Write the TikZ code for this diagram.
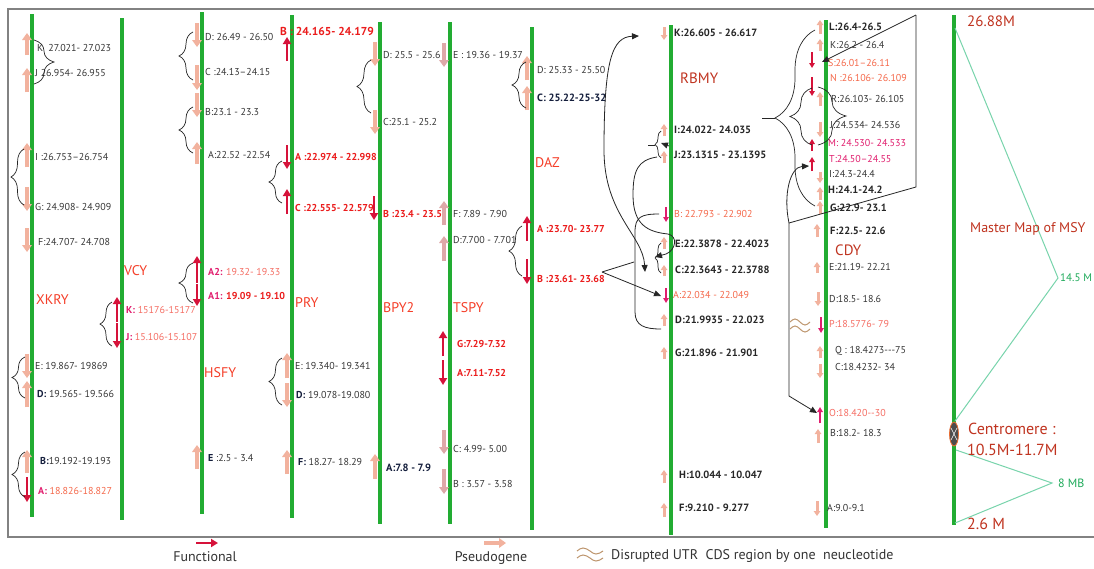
\documentclass[tikz,border=0pt]{standalone}
\usepackage{fontspec}
\setmainfont{PT Sans}
\usetikzlibrary{arrows.meta,decorations.pathreplacing,shapes.geometric}
\definecolor{chg}{RGB}{34,172,50}
\definecolor{psc}{RGB}{242,178,158}
\definecolor{psb}{RGB}{222,168,168}
\definecolor{fnc}{RGB}{214,18,58}
\definecolor{txt}{RGB}{55,55,55}
\definecolor{navy}{RGB}{20,30,60}
\definecolor{redt}{RGB}{245,62,40}
\definecolor{redb}{RGB}{235,28,28}
\definecolor{orng}{RGB}{245,105,75}
\definecolor{mag}{RGB}{225,30,110}
\definecolor{pinkt}{RGB}{245,110,100}
\definecolor{brn}{RGB}{192,52,32}
\definecolor{tl}{RGB}{120,212,172}
\definecolor{tlt}{RGB}{30,170,90}
\definecolor{wavc}{RGB}{190,150,110}
\definecolor{frm}{RGB}{130,130,130}
\tikzset{
 chrom/.style={draw=chg,line width=3.6pt},
 psarr/.style={draw=psc,line width=4.2pt,-{Triangle[width=9.5pt,length=7pt]}},
 fnarr/.style={draw=fnc,line width=2.6pt,-{Triangle[width=8pt,length=7pt]}},
 smarr/.style={draw=psc,line width=3pt,-{Triangle[width=6.5pt,length=5pt]}},
 sfarr/.style={draw=fnc,line width=2pt,-{Triangle[width=5.5pt,length=5pt]}},
 lab/.style={anchor=west,inner sep=0pt,text=txt,font=\fontsize{10}{12}\selectfont},
 labr/.style={anchor=west,inner sep=0pt,text=redb,font=\bfseries\fontsize{10}{12}\selectfont},
 labb/.style={anchor=west,inner sep=0pt,text=black!85,font=\bfseries\fontsize{10.5}{12}\selectfont},
 gname/.style={anchor=west,inner sep=0pt,text=redt,font=\fontsize{14}{16}\selectfont},
 bigt/.style={anchor=west,inner sep=0pt,text=brn,font=\fontsize{16}{18}\selectfont},
 legt/.style={inner sep=0pt,text=black!80,font=\fontsize{14}{16}\selectfont},
 brc/.style={decorate,decoration={brace,amplitude=#1},draw=black!85,line width=0.7pt},
 conn/.style={draw=black!85,line width=0.8pt},
 tipc/.tip={Triangle[width=6pt,length=7pt]},
 mline/.style={draw=tl,line width=1pt},
 wav/.style={draw=wavc,line width=1pt},
}
\newcommand\PsUp[4][]{\draw[psarr,#1] (#2,#4) -- (#2,#3);}
\newcommand\PsDn[4][]{\draw[psarr,#1] (#2,#3) -- (#2,#4);}
\newcommand\FnUp[4][]{\draw[fnarr,#1] (#2,#4) -- (#2,#3);}
\newcommand\FnDn[4][]{\draw[fnarr,#1] (#2,#3) -- (#2,#4);}
\newcommand\SmUp[4][]{\draw[smarr,#1] (#2,#4) -- (#2,#3);}
\newcommand\SmDn[4][]{\draw[smarr,#1] (#2,#3) -- (#2,#4);}
\newcommand\SfUp[4][]{\draw[sfarr,#1] (#2,#4) -- (#2,#3);}
\newcommand\SfDn[4][]{\draw[sfarr,#1] (#2,#3) -- (#2,#4);}
\begin{document}
\begin{tikzpicture}[x=1pt,y=-1pt]
\useasboundingbox (0,0) rectangle (1094,568);
\fill[white] (0,0) rectangle (1094,568);
\draw[frm,line width=1.3pt] (1100,9) -- (8,9) -- (8,537) -- (1100,537);

% ---------- XKRY ----------
\draw[chrom] (32,14) -- (32,517);
\PsUp{27}{33}{55} \node[lab] (xK) at (37,48) {K\hspace{5pt}27.021- 27.023};
\PsUp{27}{68}{92} \node[lab] (xJ) at (35,73) {J 26.954- 26.955};
\draw[brc=20] (34,40) -- (34,84);
\PsUp{27}{143}{167} \node[lab] (xI) at (35,157) {I :26.753–26.754};
\PsDn{27}{187}{211} \node[lab] (xG) at (35,207) {G: 24.908- 24.909};
\draw[brc=13] (24,205) -- (24,149);
\PsDn{27}{228}{252} \node[lab] (xF) at (38,242) {F:24.707- 24.708};
\node[gname] (xkry) at (36,300) {XKRY};
\PsDn{27}{354}{378} \node[lab] (xE) at (35,366) {E: 19.867- 19869};
\PsUp{27}{381}{407} \node[lab] (xD) at (37,394) {{\bfseries\color{navy}D:} 19.565- 19.566};
\draw[brc=13] (25,398) -- (25,357);
\PsUp{27}{450}{473} \node[lab] (xB) at (40,461) {{\bfseries\color{navy}B:}19.192-19.193};
\FnDn{27}{477}{502} \node[lab,text=orng] (xA) at (38,491) {{\bfseries\color{mag}A:} 18.826-18.827};
\draw[brc=13] (25,497) -- (25,452);

% ---------- VCY ----------
\draw[chrom] (122,18) -- (122,520);
\node[gname] (vcy) at (124,271) {VCY};
\FnUp{117}{297}{322} \node[lab,text=pinkt] (vK) at (126,310) {{\bfseries\color{mag}K:} 15176-15177};
\FnDn{117}{323}{348} \node[lab,text=pinkt] (vJ) at (126,337) {{\bfseries\color{mag}J:} 15.106-15.107};
\draw[brc=12] (112,346) -- (112,302);

% ---------- HSFY ----------
\draw[chrom] (202,12) -- (202,514);
\PsDn{197}{23}{47} \node[lab] (hD) at (205,37) {D: 26.49 - 26.50};
\PsDn{197}{65}{90} \node[lab] (hC) at (205,72) {C :24.13–24.15};
\draw[brc=14] (193,80) -- (193,32);
\PsDn{197}{93}{117} \node[lab] (hB) at (205,112) {B:23.1 - 23.3};
\PsUp{197}{142}{164} \node[lab] (hA) at (208,155) {A:22.52 -22.54};
\draw[brc=14] (193,153) -- (193,107);
\FnUp{197}{256}{283} \node[lab,text=pinkt] (hA2) at (208,272) {{\bfseries\color{mag}A2:} 19.32- 19.33};
\FnDn{197}{284}{306} \node[lab,text=redb] (hA1) at (208,296) {{\bfseries\color{mag}A1:} \textbf{19.09 - 19.10}};
\draw[brc=14] (193,303) -- (193,263);
\node[gname] (hsfy) at (204,373) {HSFY};
\PsUp{197}{445}{469} \node[lab] (hE) at (208,458) {{\bfseries\color{navy}E} :2.5 - 3.4};

% ---------- PRY ----------
\draw[chrom] (292,15) -- (292,518);
\FnUp{287}{37}{61} \node[labr,font=\bfseries\fontsize{11.5}{13}\selectfont] (pB) at (280,31) {B : 24.165- 24.179};
\FnDn{287}{145}{169} \node[labr] (pA) at (295,157) {A :22.974 - 22.998};
\FnUp{287}{189}{214} \node[labr] (pC) at (295,208) {C :22.555- 22.579};
\draw[brc=13] (282,203) -- (282,161);
\node[gname] (pry) at (295,303) {PRY};
\PsUp{287}{353}{378} \node[lab] (pE) at (295,366) {E: 19.340- 19.341};
\PsDn{287}{383}{407} \node[lab] (pD) at (296,395) {{\bfseries\color{navy}D:} 19.078-19.080};
\draw[brc=13] (282,405) -- (282,358);
\PsUp{287}{450}{474} \node[lab] (pF) at (298,462) {{\bfseries\color{navy}F:} 18.27- 18.29};

% ---------- BPY2 ----------
\draw[chrom] (380,22) -- (380,524);
\PsDn{375}{42}{66} \node[lab] (bD) at (383,55) {D: 25.5 - 25.6};
\PsDn{375}{110}{134} \node[lab] (bC) at (383,122) {C:25.1 - 25.2};
\draw[brc=14] (371,113) -- (371,60);
\FnDn{374}{196}{220} \node[labr] (bB) at (383,214) {B :23.4 - 23.5};
\node[gname] (bpy) at (383,308) {BPY2};
\PsUp{375}{454}{479} \node[labb,text=navy] (bA) at (386,468) {A:7.8 - 7.9};

% ---------- TSPY ----------
\draw[chrom] (450,22) -- (450,524);
\PsDn[draw=psb]{444}{43}{67} \node[lab] (tE) at (453,55) {E : 19.36 - 19.37};
\PsUp[draw=psb]{444}{201}{225} \node[lab] (tF) at (453,214) {F: 7.89 - 7.90};
\PsUp[draw=psb]{444}{236}{261} \node[lab] (tD) at (453,240) {D:7.700 - 7.701};
\node[gname] (tspy) at (453,308) {TSPY};
\FnUp{443}{331}{356} \node[labr] (tG) at (457,344) {G:7.29-7.32};
\FnDn{443}{360}{385} \node[labr] (tA) at (457,373) {A:7.11-7.52};
\PsDn[draw=psb]{444}{430}{454} \node[lab] (tC) at (453,449) {C: 4.99- 5.00};
\PsDn[draw=psb]{444}{469}{494} \node[lab] (tB) at (453,484) {B : 3.57 - 3.58};

% ---------- DAZ ----------
\draw[chrom] (532,27) -- (532,530);
\PsUp{527}{56}{80} \node[lab] (dD) at (537,70) {D: 25.33 - 25.50};
\PsUp{527}{86}{110} \node[labb,text=navy] (dC) at (537,98) {C: 25.22-25-32};
\draw[brc=14] (526,108) -- (526,62);
\node[gname] (daz) at (535,163) {DAZ};
\FnUp{527}{216}{241} \node[labr] (dA) at (537,229) {A :23.70- 23.77};
\FnDn{527}{259}{284} \node[labr] (dB) at (537,279) {B :23.61- 23.68};
\draw[brc=13] (522,276) -- (522,226);

% ---------- RBMY ----------
\draw[chrom] (671,25) -- (671,535);
\SmDn{664}{27}{40} \node[labb] (rK) at (674,33) {K:26.605 - 26.617};
\node[bigt,font=\fontsize{15}{17}\selectfont] (rbmy) at (680,78) {RBMY};
\SmUp{664}{124}{136} \node[labb] (rI) at (674,130) {I:24.022- 24.035};
\SmUp{664}{151}{163} \node[labb] (rJ) at (674,155) {J:23.1315 - 23.1395};
\SfDn[draw=mag]{666}{207}{222} \node[lab,text=orng] (rB) at (674,214) {B: 22.793 - 22.902};
\SmUp{664}{237}{249} \node[labb] (rE) at (675,244) {E:22.3878 - 22.4023};
\SmUp{664}{265}{276} \node[labb] (rC) at (675,270) {C:22.3643 - 22.3788};
\SfDn[draw=mag]{666}{288}{303} \node[lab,text=orng] (rA) at (673,295) {A:22.034 - 22.049};
\SmUp{664}{314}{326} \node[labb] (rD) at (675,320) {D:21.9935 - 22.023};
\SmUp{664}{347}{359} \node[labb] (rG) at (675,353) {G:21.896 - 21.901};
\SmUp{664}{470}{483} \node[labb] (rH) at (679,475) {H:10.044 - 10.047};
\SmUp{664}{503}{517} \node[labb] (rF) at (679,508) {F:9.210 - 9.277};

% connectors DAZ -> RBMY
\coordinate (dzB) at (602,272);
\coordinate (rbKa) at (639,36);
\coordinate (rbAa) at (661,296);
\coordinate (tri) at (645,272);
\coordinate (rbBa) at (659,214);
\coordinate (rbDa) at (661,329);
\coordinate (rbJa) at (657,157);
\coordinate (ecT) at (655,257);
\draw[conn,-tipc] (dzB) -- (rbAa);
\draw[conn] (dzB) -- (634,262);
\draw[conn,tipc-tipc] (tri) .. controls (643,235) and (604,215) .. (604,150) .. controls (604,60) and (612,37) .. (rbKa);
\draw[conn] (rbBa) .. controls (641,214) and (635,217) .. (635,232) -- (635,312) .. controls (635,326) and (645,329) .. (rbDa);
\draw[conn,-tipc] (rbJa) .. controls (638,160) and (633,170) .. (633,195) .. controls (633,225) and (648,232) .. (668,234) .. controls (678,236) and (676,250) .. (666,254) -- (ecT);
\draw[brc=6] (661,273) -- (661,243);
\draw[brc=6] (661,158) -- (661,131);
\draw[conn] (655,145) -- (648,145);
\draw[conn,-tipc] (669,146) -- (661,143);

% ---------- CDY ----------
\draw[chrom] (826,20) -- (826,528);
\SmUp{820}{20}{34} \node[labb] (cL) at (829,27) {L:26.4-26.5};
\SmUp{820}{39}{51} \node[lab] (cK) at (830,45) {K:26.2 - 26.4};
\SfDn{812}{52}{68} \node[lab,text=orng] (cS) at (828,63) {S:26.01–26.11};
\SfDn{812}{77}{96} \node[lab,text=orng] (cN) at (830,78) {N :26.106- 26.109};
\SmUp{820}{92}{106} \node[lab] (cR) at (831,99) {R:26.103- 26.105};
\SmDn{820}{122}{137} \node[lab] (cJ) at (830,125) {J:24.534- 24.536};
\SfUp{812}{139}{151} \node[lab,text=mag] (cM) at (828,143) {M: 24.530- 24.533};
\SfUp{812}{157}{171} \node[lab,text=mag] (cT) at (829,159) {T:24.50–24.55};
\SmDn{820}{172}{183} \node[lab] (cI) at (829,174) {I:24.3-24.4};
\SmUp{820}{187}{200} \node[labb] (cH) at (828,190) {H:24.1-24.2};
\SmUp{820}{201}{214} \node[labb] (cG) at (830,208) {G:22.9- 23.1};
\SmUp{817}{224}{237} \node[labb] (cF) at (830,231) {F:22.5- 22.6};
\node[bigt,font=\fontsize{15}{17}\selectfont] (cdy) at (835,250) {CDY};
\SmUp{817}{262}{273} \node[lab] (cE) at (829,267) {E:21.19- 22.21};
\SmDn{818}{292}{306} \node[lab] (cD) at (829,299) {D:18.5- 18.6};
\SfDn[draw=mag]{821}{317}{333} \node[lab,text=pinkt] (cP) at (829,324) {P:18.5776- 79};
\SmUp{820}{346}{358} \node[lab] (cQ) at (835,351) {Q : 18.4273-{}-{}-75};
\SmDn{820}{364}{378} \node[lab] (cC) at (835,367) {C:18.4232- 34};
\SfUp[draw=mag]{820}{407}{423} \node[lab,text=pinkt] (cO) at (829,413) {O:18.420-{}-30};
\SmUp{818}{429}{443} \node[lab] (cB) at (830,433) {B:18.2- 18.3};
\SmDn{817}{501}{516} \node[lab] (cA) at (827,508) {A:9.0-9.1};

% CDY connectors
\coordinate (pT) at (916,15);
\coordinate (pB) at (916,187);
\coordinate (pL) at (789,223);
\coordinate (pLL) at (789,396);
\coordinate (cSa) at (822,62);
\coordinate (cOa) at (817,413);
\coordinate (cTa) at (809,166);
\coordinate (bt) at (762,118);
\draw[conn,-tipc] (pT) -- (cSa);
\draw[conn,-tipc] (pT) -- (pB) -- (pL) -- (pLL) -- (cOa);
\draw[conn,-tipc] (pL) .. controls (783,195) and (790,167) .. (cTa);
\draw[brc=40] (815,206) -- (815,30);
\draw[conn] (bt) -- (775,118);
\draw[brc=22] (812,145) -- (812,88);
\draw[brc=28] (818,87) -- (818,145);
\draw[wav] (790,322) sin (795,319) cos (800,322) sin (805,325) cos (810,322);
\draw[wav] (790,329) sin (795,326) cos (800,329) sin (805,332) cos (810,329);

% ---------- Master map ----------
\draw[draw=chg,line width=4.8pt] (954,15) -- (954,525);
\draw[mline] (955,28) -- (1058,278) -- (955,421);
\draw[mline] (956,450) -- (1052,483) -- (955,523);
\node[ellipse,draw={rgb,255:red,235;green,110;blue,50},fill=black!70,line width=0.8pt,minimum width=9pt,minimum height=24pt,inner sep=0pt] (cen) at (954,434) {};
\draw[white,line width=0.6pt] (951,428) -- (957,440) (957,428) -- (951,440);
\node[bigt,font=\fontsize{15}{17}\selectfont] (top) at (967,21) {26.88M};
\node[bigt,font=\fontsize{14}{16}\selectfont] (mm) at (970,229) {Master Map of MSY};
\node[anchor=west,inner sep=0pt,text=tlt,font=\fontsize{11}{13}\selectfont] (m14) at (1060,278) {14.5 M};
\node[bigt] (cm1) at (968,429) {Centromere :};
\node[bigt] (cm2) at (967,450) {10.5M-11.7M};
\node[anchor=west,inner sep=0pt,text=tlt,font=\fontsize{12}{14}\selectfont] (m8) at (1058,483) {8 MB};
\node[bigt] (bot) at (967,524) {2.6 M};

% ---------- Legend ----------
\draw[fnarr,line width=2.2pt] (196,543) -- (218,543);
\node[legt] (lf) at (205,557) {Functional};
\draw[psarr,line width=3.5pt] (484,543) -- (506,543);
\node[legt] (lp) at (491,558) {Pseudogene};
\draw[wav] (577,551) sin (583,548) cos (590,551) sin (596,554) cos (603,551);
\draw[wav] (577,558) sin (583,555) cos (590,558) sin (596,561) cos (603,558);
\node[legt,anchor=west] (ld) at (611,556) {Disrupted UTR\ \ CDS region by one\ \ neucleotide};
\end{tikzpicture}
\end{document}
